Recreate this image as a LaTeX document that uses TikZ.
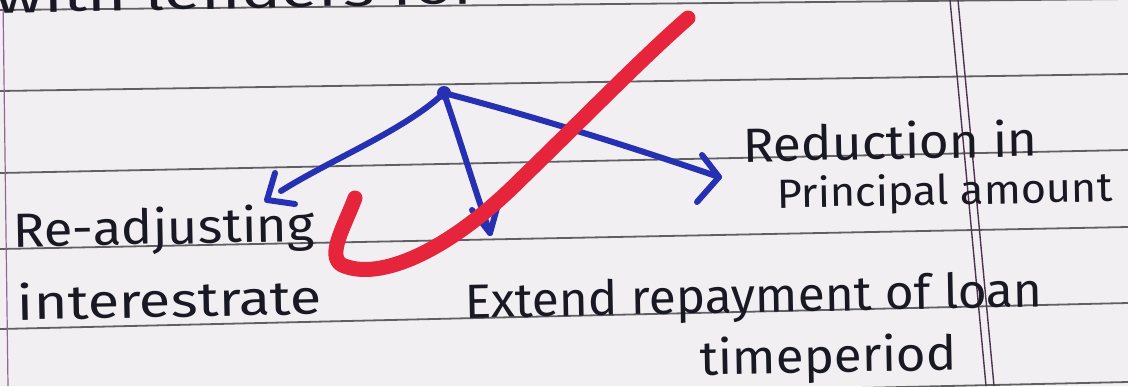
\documentclass[tikz,border=0pt]{standalone}
\usepackage{fontspec}
\setmainfont{Fira Sans}
\usepackage{graphicx}
\definecolor{paper}{RGB}{241,239,241}
\definecolor{rule}{RGB}{95,95,100}
\definecolor{margin}{RGB}{80,50,80}
\definecolor{lmargin}{RGB}{150,100,150}
\definecolor{ink}{RGB}{25,25,35}
\definecolor{bluepen}{RGB}{38,48,178}
\definecolor{redmark}{RGB}{230,36,60}
\begin{document}
\begin{tikzpicture}[x=0.5pt,y=-0.5pt,
  ruled/.style={draw=rule,line width=0.9pt},
  vline/.style={draw=margin,line width=0.7pt},
  hand/.style={anchor=base west,inner sep=0pt,outer sep=0pt,text=ink,
    font=\fontsize{24}{28}\selectfont,rotate=1.1},
  pen/.style={draw=bluepen,line width=3pt,line cap=round,line join=round},
  check/.style={draw=redmark,line width=7.5pt,line cap=round,line join=round}]
\useasboundingbox (0,0) rectangle (1128,386);
\fill[paper] (0,0) rectangle (1128,386);
% ruled lines
\draw[ruled] (0,10) -- (1128,-1);
\draw[ruled] (0,91) -- (1128,74);
\draw[ruled] (0,173) -- (1128,150);
\draw[ruled] (0,249) -- (1128,227);
\draw[ruled] (0,329) -- (1128,303);
\draw[ruled] (0,407) -- (1128,382);
% margin lines
\draw[draw=lmargin,line width=0.6pt] (3,0) -- (8,386);
\draw[vline] (950,0) -- (986,386);
\draw[vline] (958,0) -- (994,386);
% texts
\node[hand] (t0) at (-4,13) {\resizebox{242pt}{\height}{with lenders for}};
\node[hand] (ra) at (13,247) {\resizebox{151pt}{\height}{Re-adjusting}};
\node[hand] (ir) at (18,320) {\resizebox{152pt}{\height}{interestrate}};
\node[hand] (ex) at (465,318) {\resizebox{289pt}{\height}{Extend repayment of loan}};
\node[hand] (tp) at (700,375) {\resizebox{128.5pt}{\height}{timeperiod}};
\node[hand] (rd) at (743,162) {\resizebox{147.5pt}{\height}{Reduction in}};
\node[hand] (pa) at (777,208) {\resizebox{168pt}{0.85\height}{Principal amount}};
% blue arrows
\node[circle,fill=bluepen,inner sep=0pt,minimum size=7pt] (o) at (444,93) {};
\coordinate (eL) at (281,191);
\coordinate (tipL) at (267,200);
\coordinate (tipM) at (490,233);
\coordinate (tipR) at (719,177);
\draw[pen] (o.center) .. controls (405,130) and (330,160) .. (eL);
\draw[pen] (tipL) -- ++(8,-27) (tipL) -- ++(28,4);
\draw[pen] (o.center) .. controls (460,140) and (475,190) .. (tipM);
\draw[pen] (tipM) -- ++(-18,-23) (tipM) -- ++(7,-25);
\draw[pen] (o.center) .. controls (540,118) and (640,150) .. (tipR);
\draw[pen] (tipR) -- ++(-17,-22) (tipR) -- ++(-22,25);
% red check mark
\coordinate (c1) at (355,198);
\coordinate (c2) at (342,265);
\coordinate (c3) at (520,180);
\coordinate (c4) at (688,18);
\draw[check] (c1) .. controls (345,225) and (326,256) .. (c2)
  .. controls (380,282) and (450,250) .. (c3)
  .. controls (580,122) and (640,60) .. (c4);
\end{tikzpicture}
\end{document}
